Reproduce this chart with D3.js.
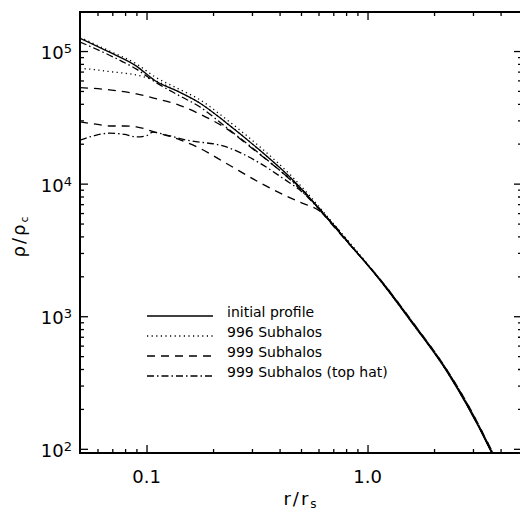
<!DOCTYPE html>
<html>
<head>
<meta charset="utf-8">
<script src="https://cdn.jsdelivr.net/npm/d3@7"></script>
<style>
  body { margin: 0; background: #fff; }
  text { font-family: "DejaVu Sans", sans-serif; fill: #000; }
</style>
</head>
<body>
<svg id="chart" width="520" height="512"></svg>
<script>
// density profiles, [r/rs, rho/rho_c]
var initialProfile = [[0.05,1.25e5],[0.068,9.8e4],[0.09,7.7e4],[0.109,6.0e4],[0.141,4.9e4],[0.174,4.06e4],[0.23,2.87e4],[0.325,1.79e4],[0.458,1.07e4],[0.652,5600],[0.855,3300],[0.949,2700],[1.13,1900],[1.6,880],[2.28,385],[2.81,215],[3.64,94],[3.8,81]];
var subhalos996a = [[0.05,1.27e5],[0.068,1.0e5],[0.09,8.0e4],[0.109,6.4e4],[0.141,5.15e4],[0.174,4.3e4],[0.23,3.05e4],[0.325,1.9e4],[0.458,1.12e4],[0.652,5750],[0.855,3380],[0.949,2750],[1.13,1920],[1.6,885],[2.28,388],[2.81,216],[3.64,94],[3.8,81]];
var subhalos996b = [[0.05,7.4e4],[0.06,7.2e4],[0.068,7.0e4],[0.08,6.8e4],[0.09,6.6e4],[0.1,6.3e4],[0.109,6.0e4],[0.141,4.9e4],[0.174,4.06e4],[0.23,2.87e4],[0.325,1.79e4],[0.458,1.07e4],[0.652,5600],[0.855,3300],[0.949,2700],[1.13,1900],[1.6,880],[2.28,385],[2.81,215],[3.64,94],[3.8,81]];
var subhalos999a = [[0.05,5.3e4],[0.068,5.1e4],[0.09,4.75e4],[0.109,4.4e4],[0.141,3.9e4],[0.174,3.35e4],[0.23,2.6e4],[0.3,1.85e4],[0.4,1.26e4],[0.52,8600],[0.652,5500],[0.855,3280],[0.949,2700],[1.13,1930],[1.6,900],[2.28,395],[2.81,222],[3.64,97],[3.8,84]];
var subhalos999b = [[0.05,2.92e4],[0.06,2.8e4],[0.068,2.72e4],[0.08,2.72e4],[0.09,2.68e4],[0.109,2.45e4],[0.141,2.15e4],[0.174,1.85e4],[0.23,1.42e4],[0.325,1.02e4],[0.42,8200],[0.5,7200],[0.6,6300],[0.7,4950],[0.855,3320],[0.949,2720],[1.13,1940],[1.6,905],[2.28,398],[2.81,224],[3.64,98],[3.8,85]];
var topHat999a = [[0.05,1.17e5],[0.068,9.3e4],[0.09,7.3e4],[0.112,5.7e4],[0.141,4.6e4],[0.174,3.8e4],[0.23,2.65e4],[0.325,1.68e4],[0.458,1.03e4],[0.652,5550],[0.855,3290],[0.949,2710],[1.13,1910],[1.6,890],[2.28,390],[2.81,218],[3.64,95],[3.8,82]];
var topHat999b = [[0.05,2.13e4],[0.058,2.3e4],[0.068,2.4e4],[0.08,2.35e4],[0.09,2.25e4],[0.1,2.3e4],[0.107,2.45e4],[0.12,2.35e4],[0.152,2.13e4],[0.23,1.89e4],[0.325,1.43e4],[0.42,1.08e4],[0.5,8800],[0.6,6600],[0.7,4900],[0.855,3300],[0.949,2700],[1.13,1905],[1.6,885],[2.28,388],[2.81,216],[3.64,95],[3.8,81]];

var xMajor = [0.1, 1.0];
var xMajorLabels = ["0.1", "1.0"];
var yMajor = [1e2, 1e3, 1e4, 1e5];
var yExponents = ["2", "3", "4", "5"];
var legendLabels = ["initial profile", "996 Subhalos", "999 Subhalos", "999 Subhalos (top hat)"];

var svg = d3.select("#chart");
// plot box edges (note: "top" is reserved on window, so prefixed names)
var pLeft = 80, pRight = 522, pTop = 12, pBottom = 453;

var x = d3.scaleLog().domain([0.05, 5]).range([pLeft, pRight]);
var y = d3.scaleLog().domain([93, 1.97e5]).range([pBottom, pTop]);

// minor ticks 2..9 per decade
var xMinor = [], yMinor = [];
[0.01, 0.1, 1].forEach(function(d) { for (var k = 2; k < 10; k++) xMinor.push(d * k); });
[10, 100, 1000, 1e4, 1e5].forEach(function(d) { for (var k = 2; k < 10; k++) yMinor.push(d * k); });
xMinor = xMinor.filter(function(v) { return v > 0.05 && v < 5; });
yMinor = yMinor.filter(function(v) { return v > 93 && v < 1.97e5; });

var noLabel = function() { return ""; };

function drawAxis(axisFn, scale, vals, size, tr) {
  svg.append("g")
    .attr("transform", tr)
    .call(axisFn(scale).tickValues(vals).tickSize(size).tickFormat(noLabel))
    .call(function(g) { g.select(".domain").remove(); })
    .selectAll("line").attr("stroke", "#000").attr("stroke-width", 1.3);
}

// ticks point inwards on all four sides
drawAxis(d3.axisBottom, x, xMajor, -8, "translate(0," + pBottom + ")");
drawAxis(d3.axisBottom, x, xMinor, -4, "translate(0," + pBottom + ")");
drawAxis(d3.axisTop, x, xMajor, -8, "translate(0," + pTop + ")");
drawAxis(d3.axisTop, x, xMinor, -4, "translate(0," + pTop + ")");
drawAxis(d3.axisLeft, y, yMajor, -8, "translate(" + pLeft + ",0)");
drawAxis(d3.axisLeft, y, yMinor, -4, "translate(" + pLeft + ",0)");
drawAxis(d3.axisRight, y, yMajor, -8, "translate(" + pRight + ",0)");
drawAxis(d3.axisRight, y, yMinor, -4, "translate(" + pRight + ",0)");

svg.append("rect")
  .attr("x", pLeft).attr("y", pTop)
  .attr("width", pRight - pLeft).attr("height", pBottom - pTop)
  .attr("fill", "none").attr("stroke", "#000").attr("stroke-width", 2);

// tick labels
svg.selectAll(".xlab").data(xMajor).enter().append("text")
  .attr("x", function(d) { return x(d); })
  .attr("y", 483)
  .attr("text-anchor", "middle")
  .attr("font-size", 18)
  .text(function(d, i) { return xMajorLabels[i]; });

var ylab = svg.selectAll(".ylab").data(yMajor).enter().append("text")
  .attr("x", 72)
  .attr("y", function(d) { return y(d) + 8; })
  .attr("text-anchor", "end")
  .attr("font-size", 18);
ylab.append("tspan").text("10");
ylab.append("tspan").attr("font-size", 13).attr("dy", -6).text(function(d, i) { return yExponents[i]; });

// axis titles
var xt = svg.append("text").attr("x", 301).attr("y", 505).attr("text-anchor", "middle").attr("font-size", 18).attr("letter-spacing", 2);
xt.append("tspan").text("r/r");
xt.append("tspan").attr("font-size", 12).attr("dy", 3).text("s");

var yt = svg.append("text").attr("transform", "translate(25,236) rotate(-90)").attr("text-anchor", "middle").attr("font-size", 18).attr("letter-spacing", 2);
yt.append("tspan").text("ρ/ρ");
yt.append("tspan").attr("font-size", 11).attr("dy", 3).text("c");

// curves
svg.append("clipPath").attr("id", "plotclip").append("rect")
  .attr("x", pLeft).attr("y", pTop).attr("width", pRight - pLeft).attr("height", pBottom - pTop);

var line = d3.line()
  .x(function(d) { return x(d[0]); })
  .y(function(d) { return y(d[1]); })
  .curve(d3.curveMonotoneX);

var styles = { solid: null, dotted: "1.2,3.4", dashed: "8,6", dashdot: "7,3,1.5,3" };

var curves = [
  [subhalos996b, "dotted"], [subhalos999b, "dashed"], [topHat999b, "dashdot"],
  [subhalos999a, "dashed"], [topHat999a, "dashdot"], [subhalos996a, "dotted"],
  [initialProfile, "solid"]
];

var g = svg.append("g").attr("clip-path", "url(#plotclip)");
curves.forEach(function(c) {
  g.append("path")
    .attr("d", line(c[0]))
    .attr("fill", "none")
    .attr("stroke", "#000")
    .attr("stroke-width", 1.3)
    .attr("stroke-dasharray", styles[c[1]]);
});

// legend
var legStyles = ["solid", "dotted", "dashed", "dashdot"];
legendLabels.forEach(function(lab, i) {
  var ly = 316 + i * 20;
  svg.append("line")
    .attr("x1", 147).attr("x2", 213).attr("y1", ly).attr("y2", ly)
    .attr("stroke", "#000").attr("stroke-width", 1.3)
    .attr("stroke-dasharray", styles[legStyles[i]]);
  svg.append("text").attr("x", 227).attr("y", ly + 1).attr("font-size", 14).text(lab);
});
</script>
</body>
</html>
